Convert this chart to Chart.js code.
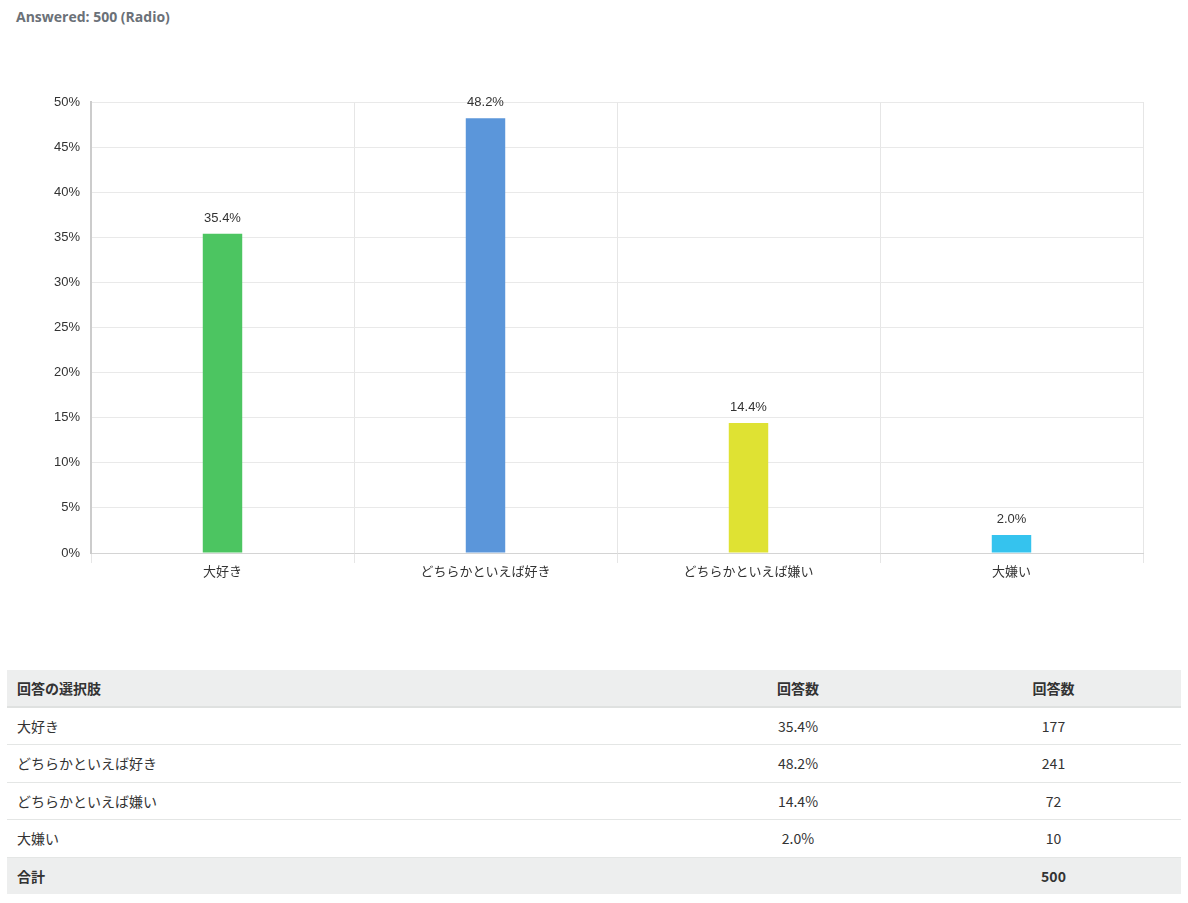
<!DOCTYPE html>
<html>
<head>
<meta charset="utf-8">
<script src="https://cdn.jsdelivr.net/npm/chart.js@4"></script>
<style>
  html, body { margin: 0; padding: 0; background: #fff; }
  body { width: 1188px; height: 903px; position: relative; overflow: hidden; font-family: "Noto Sans", "Noto Sans CJK JP", sans-serif; }
  #title { position: absolute; left: 16px; top: 7px; font-size: 14px; font-weight: bold; color: #6b7178; font-family: "Open Sans", "Noto Sans", sans-serif; }
  #chartBox { position: absolute; left: 0; top: 0; width: 1188px; height: 620px; }
  table { position: absolute; left: 7px; top: 670px; width: 1174px; border-collapse: collapse; table-layout: fixed; font-family: "Noto Sans CJK JP", sans-serif; font-size: 14px; color: #333; }
  td, th { padding: 0 10px; border-bottom: 1px solid #e4e6e5; box-sizing: border-box; }
  td { height: 37.5px; }
  th { background: #edeeee; font-weight: bold; text-align: left; border-bottom: 2px solid #dfe1e0; height: 37px; }
  tr.foot td { background: #edeeee; font-weight: bold; border-bottom: none; height: 37px; }
  .c2 { width: 256px; text-align: center; }
  .c3 { width: 255px; text-align: center; }
</style>
</head>
<body>
<div id="title"></div>
<div id="chartBox"><canvas id="c"></canvas></div>
<table id="tbl"></table>
<script>
const answered = 500;
const categories = ["大好き", "どちらかといえば好き", "どちらかといえば嫌い", "大嫌い"];
const percents = [35.4, 48.2, 14.4, 2.0];
const counts = [177, 241, 72, 10];
const barColors = ["#4cc561", "#5b96da", "#dfe233", "#35c3ee"];
const yTicks = [0, 5, 10, 15, 20, 25, 30, 35, 40, 45, 50];

document.getElementById('title').textContent = "Answered: " + answered + " (Radio)";

// table
const tbl = document.getElementById('tbl');
let html = '<tr><th>回答の選択肢</th><th class="c2" style="text-align:center">回答数</th><th class="c3" style="text-align:center">回答数</th></tr>';
categories.forEach((c, i) => {
  html += '<tr><td>' + c + '</td><td class="c2">' + percents[i].toFixed(1) + '%</td><td class="c3">' + counts[i] + '</td></tr>';
});
html += '<tr class="foot"><td>合計</td><td class="c2"></td><td class="c3">' + counts.reduce((a, b) => a + b, 0) + '</td></tr>';
tbl.innerHTML = html;

const labelPlugin = {
  id: 'valueLabels',
  afterDatasetsDraw(chart) {
    const ctx = chart.ctx;
    const meta = chart.getDatasetMeta(0);
    ctx.save();
    ctx.font = '13px "Liberation Sans", Arial, sans-serif';
    ctx.fillStyle = '#333';
    ctx.textAlign = 'center';
    ctx.textBaseline = 'alphabetic';
    meta.data.forEach((bar, i) => {
      ctx.fillText(percents[i].toFixed(1) + '%', bar.x, bar.y - 12);
    });
    ctx.restore();
  }
};

new Chart(document.getElementById('c'), {
  type: 'bar',
  data: {
    labels: categories,
    datasets: [{
      data: percents,
      backgroundColor: barColors,
      borderWidth: 0,
      barPercentage: 0.15,
      categoryPercentage: 1.0
    }]
  },
  options: {
    responsive: true,
    maintainAspectRatio: false,
    animation: false,
    layout: { padding: { left: 0, right: 45, top: 102, bottom: 33 } },
    plugins: { legend: { display: false }, tooltip: { enabled: false } },
    scales: {
      x: {
        grid: { color: '#e6e6e6', offset: true, drawTicks: true, tickLength: 10 },
        border: { color: '#d4d4d4' },
        ticks: { color: '#333', font: { size: 13, family: '"Noto Sans CJK JP", sans-serif' }, padding: 0 },
        afterFit(scale) { scale.height = 34; }
      },
      y: {
        min: 0, max: 50,
        afterBuildTicks(scale) { scale.ticks = yTicks.map(v => ({ value: v })); },
        grid: { color: '#e9e9e9', drawTicks: false },
        border: { color: '#cccccc', width: 2 },
        ticks: { color: '#333', font: { size: 13, family: '"Liberation Sans", Arial, sans-serif' }, padding: 11, callback: v => v + '%' },
        afterFit(scale) { scale.width = 91; }
      }
    }
  },
  plugins: [labelPlugin]
});
</script>
</body>
</html>
